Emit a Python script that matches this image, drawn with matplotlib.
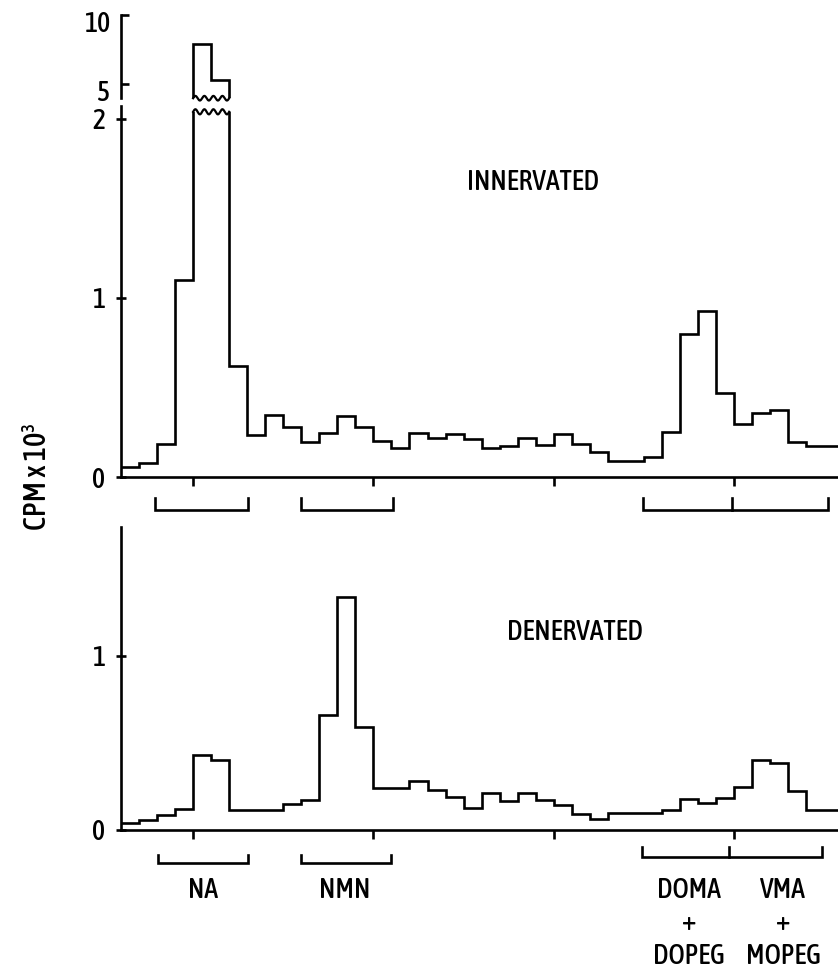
import matplotlib
matplotlib.use("Agg")
import matplotlib.pyplot as plt
from matplotlib import font_manager as fm
from matplotlib.transforms import ScaledTranslation
import numpy as np

# ---------------- data ----------------
fractions = np.arange(41)          # bin edges (fraction number)
innervated = [0.058, 0.08, 0.183, 1.10, 7.9, 5.3, 0.62, 0.235, 0.346, 0.28,
              0.197, 0.244, 0.343, 0.28, 0.20, 0.16, 0.244, 0.216, 0.24, 0.212,
              0.16, 0.175, 0.22, 0.18, 0.24, 0.183, 0.14, 0.09, 0.09, 0.113,
              0.253, 0.80, 0.93, 0.47, 0.294, 0.356, 0.374, 0.197, 0.175, 0.175]
denervated = [0.04, 0.06, 0.088, 0.12, 0.43, 0.40, 0.115, 0.115, 0.115, 0.15,
              0.17, 0.66, 1.34, 0.59, 0.24, 0.24, 0.28, 0.23, 0.19, 0.125,
              0.21, 0.165, 0.21, 0.175, 0.144, 0.092, 0.063, 0.096, 0.096, 0.096,
              0.117, 0.18, 0.154, 0.184, 0.245, 0.40, 0.386, 0.226, 0.117, 0.117]
x_ticks = [4, 14, 24, 34]
top_yticks = [0, 1, 2]
brk_yticks = [5, 10]
bot_yticks = [0, 1]
# bracket ranges (fraction numbers)
top_brackets = [(1.9, 7.04, []), (10.0, 15.1, []), (28.95, 39.2, [33.9])]
bot_brackets = [(2.05, 7.04, []), (10.0, 15.0, []), (28.9, 38.9, [33.7])]
peak_labels = [["NA"], ["NMN"], ["DOMA", "+", "DOPEG"], ["VMA", "+", "MOPEG"]]
panel_titles = ["INNERVATED", "DENERVATED"]
ylabel = "CPM x 10³"

# ---------------- font: prefer a condensed / narrow face ----------------
def pick_font():
    best = None
    for f in fm.fontManager.ttflist:
        name = f.name
        narrow = ("Narrow" in name or "Condensed" in name or
                  str(f.stretch) in ("condensed", "semi-condensed", "extra-condensed"))
        if not narrow or f.style != "normal":
            continue
        w = f.weight if isinstance(f.weight, int) else 400
        score = abs(w - 500)
        if "Mono" in name:
            score += 1000
        if best is None or score < best[0]:
            best = (score, f.fname)
    if best is not None:
        return fm.FontProperties(fname=best[1])
    for fam in ["Roboto", "Liberation Sans"]:
        try:
            path = fm.findfont(fm.FontProperties(family=fam), fallback_to_default=False)
            return fm.FontProperties(fname=path)
        except Exception:
            pass
    return fm.FontProperties(family="DejaVu Sans")

FP = pick_font()

def fp(size):
    p = FP.copy()
    p.set_size(size)
    return p

# ---------------- layout helpers ----------------
W, H = 838, 975

def fx(px):
    return px / W

def fy(py):
    return 1 - py / H

XMAX = (838 - 121) / 18.03
LW = 1.9

fig = plt.figure(figsize=(W / 100, H / 100), dpi=100)
fig.patch.set_facecolor("white")

ax_top = fig.add_axes([fx(121), fy(477), fx(838) - fx(121), (477 - 111.8) / H])
ax_brk = fig.add_axes([fx(121), fy(97.8), fx(838) - fx(121), (97.8 - 15) / H])
ax_bot = fig.add_axes([fx(121), fy(830), fx(838) - fx(121), (830 - 527.2) / H])

for ax in (ax_top, ax_brk, ax_bot):
    ax.set_xlim(0, XMAX)
    for s in ("top", "right"):
        ax.spines[s].set_visible(False)
    for s in ("left", "bottom"):
        ax.spines[s].set_linewidth(LW)
    ax.patch.set_alpha(0)

ax_top.set_ylim(0, 2.04)
ax_brk.set_ylim(4.0, 10.0)
ax_bot.set_ylim(0, 1.74)

# step histograms
ax_top.stairs(innervated, fractions, baseline=None, color="black", lw=LW)
ax_brk.stairs(innervated, fractions, baseline=None, color="black", lw=LW)
ax_bot.stairs(denervated, fractions, baseline=None, color="black", lw=LW)

# broken axis spines
ax_top.spines["left"].set_bounds(0, 2.07)
ax_brk.spines["bottom"].set_visible(False)
ax_brk.set_xticks([])

# wavy break markers across the truncated bins
over = [i for i, v in enumerate(innervated) if v > 2.04]
x1, x2 = fractions[over[0]], fractions[over[-1] + 1]
t = np.linspace(0, 1, 200)
xs = x1 + (x2 - x1) * t
ax_top.plot(xs, 1.0 + 0.007 * np.sin(2 * np.pi * 4 * t), color="black", lw=1.6,
            transform=ax_top.get_xaxis_transform(), clip_on=False)
ax_brk.plot(xs, -0.005 + 0.028 * np.sin(2 * np.pi * 4 * t), color="black", lw=1.6,
            transform=ax_brk.get_xaxis_transform(), clip_on=False)

# ticks
for ax in (ax_top, ax_bot):
    ax.set_xticks(x_ticks)
    ax.set_xticklabels([])
    ax.tick_params(axis="x", direction="out", length=6.5, width=LW)
ax_top.set_yticks(top_yticks)
ax_bot.set_yticks(bot_yticks)
ax_brk.set_yticks(brk_yticks)
for ax in (ax_top, ax_bot, ax_brk):
    ax.tick_params(axis="y", direction="inout", length=7, width=LW, pad=8)
    for lab in ax.get_yticklabels():
        lab.set_fontproperties(fp(20))
ax_brk.tick_params(axis="y", direction="in", length=6)
ax_brk.spines["left"].set_bounds(4.0, 10.0)
# the upper-segment labels sit a little below their ticks in the original
shift = ScaledTranslation(0, -5 / 72, fig.dpi_scale_trans)
for tk in ax_brk.yaxis.get_major_ticks():
    tk.label1.set_transform(tk.label1.get_transform() + shift)

# brackets
def bracket(ax, a, b, mids, ytop, ybot):
    ax.plot([a, a, b, b], [ytop, ybot, ybot, ytop], color="black", lw=LW,
            clip_on=False, solid_joinstyle="miter")
    for m in mids:
        ax.plot([m, m], [ytop, ybot], color="black", lw=LW, clip_on=False)

for a, b, mids in top_brackets:
    bracket(ax_top, a, b, mids, -0.117, -0.184)
for a, b, mids in bot_brackets:
    if mids:
        bracket(ax_bot, a, b, mids, -0.098, -0.155)
    else:
        bracket(ax_bot, a, b, mids, -0.144, -0.19)

# peak labels (one text per line)
label_x = [203, 345, 689, 783]
line_y = [890, 923, 957]
for lines, px in zip(peak_labels, label_x):
    for ln, py in zip(lines, line_y):
        fig.text(fx(px), fy(py), ln, ha="center", va="center",
                 fontproperties=fp(20))

fig.text(fx(533), fy(183), panel_titles[0], ha="center", va="center",
         fontproperties=fp(20))
fig.text(fx(575), fy(632), panel_titles[1], ha="center", va="center",
         fontproperties=fp(20))
fig.text(fx(37), fy(477), ylabel, ha="center", va="center", rotation=90,
         fontproperties=fp(22))

fig.savefig("out.png", dpi=100, facecolor="white")
